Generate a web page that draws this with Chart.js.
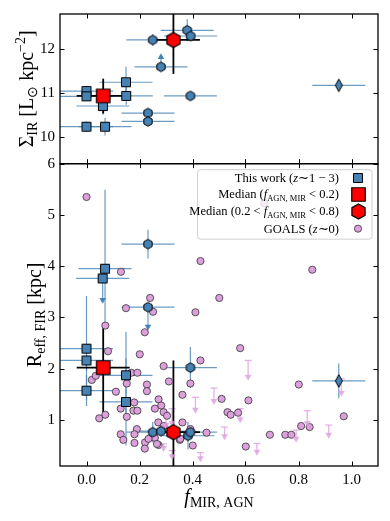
<!DOCTYPE html>
<html>
<head>
<meta charset="utf-8">
<script src="https://cdn.jsdelivr.net/npm/chart.js@4.4.0/dist/chart.umd.min.js"></script>
<style>
  html, body { margin: 0; padding: 0; background: #fff; }
  #wrap { width: 390px; height: 521px; position: relative; }
</style>
</head>
<body>
<div id="wrap"><canvas id="c" width="390" height="521"></canvas></div>
<script>
// ---- data ----
const xTicks = [0.0, 0.2, 0.4, 0.6, 0.8, 1.0];
const topTicks = [10, 11, 12];
const botTicks = [1, 2, 3, 4, 5, 6];

// top panel: Sigma_IR
const topSqX = [0.000, 0.000, 0.062, 0.149, 0.150, 0.000, 0.070];
const topSqY = [11.05, 10.93, 10.71, 11.25, 10.94, 10.24, 10.24];
const topSqXerr = [0.10, 0.10, 0.10, 0.10, 0.10, 0.10, 0.10];
const topSqYerr = [0.12, 0.10, 0.20, 0.35, 0.20, 0.12, 0.20];
const topHexX = [0.250, 0.380, 0.393, 0.281, 0.392, 0.232, 0.232];
const topHexY = [12.21, 12.43, 12.30, 11.60, 10.94, 10.55, 10.36];
const topHexXerr = [0.10, 0.10, 0.10, 0.10, 0.10, 0.10, 0.10];
const topHexYerr = [0.13, 0.25, 0.10, 0.00, 0.06, 0.05, 0.05];
const topLimX = [0.281, 0.062];      // lower limits (arrow up)
const topLimFrom = [11.60, 10.71];
const topLimTo = [11.82, 10.93];

// bottom panel: R_eff,FIR
const botSqX = [0.070, 0.061, 0.000, 0.000, 0.000, 0.149, 0.149];
const botSqY = [3.95, 3.76, 2.39, 2.16, 1.57, 1.87, 1.35];
const botSqXerr = [0.10, 0.10, 0.10, 0.10, 0.10, 0.10, 0.10];
const botSqYlo = [1.10, 0.00, 1.00, 0.20, 0.30, 0.85, 0.85];
const botSqYhi = [1.54, 0.00, 1.03, 0.20, 0.30, 0.85, 0.85];
const botHexX = [0.232, 0.232, 0.392, 0.250, 0.281, 0.383, 0.392];
const botHexY = [4.43, 3.20, 2.02, 0.76, 0.78, 0.69, 0.76];
const botHexXerr = [0.10, 0.10, 0.10, 0.10, 0.10, 0.10, 0.10];
const botHexYerr = [0.28, 0.00, 0.40, 0.20, 0.10, 0.27, 0.10];
const botLimX = [0.061, 0.232];      // upper limits (arrow down)
const botLimFrom = [3.76, 3.20];
const botLimTo = [3.34, 2.82];

// the AGN dominated source (thin diamond)
const diamX = [0.952];
const diamTopY = [11.18];
const diamTopYerr = [0.04];
const diamBotY = [1.76];
const diamBotYerr = [0.34];
const diamXerr = [0.10];

// medians: [f<0.2 square, 0.2<f<0.8 hexagon]
const medX = [0.063, 0.328];
const medXlo = [0.10, 0.075];
const medXhi = [0.10, 0.10];
const medTopY = [10.94, 12.21];
const medTopYlo = [0.40, 0.77];
const medTopYhi = [0.39, 0.90];
const medBotY = [2.02, 0.76];
const medBotYlo = [0.87, 1.00];
const medBotYhi = [0.83, 1.40];

// GOALS (z~0)
const goalsX = [0.000, 0.671, 0.130, 0.430, 0.852, 0.240, 0.501, 0.149, 0.251, 0.411,
  0.071, 0.220, 0.580, 0.201, 0.081, 0.430, 0.291, 0.311, 0.392, 0.169,
  0.192, 0.020, 0.035, 0.228, 0.228, 0.111, 0.362, 0.510, 0.611, 0.801,
  0.971, 0.272, 0.282, 0.258, 0.291, 0.129, 0.180, 0.177, 0.192, 0.152,
  0.071, 0.048, 0.532, 0.544, 0.572, 0.271, 0.362, 0.190, 0.291, 0.392,
  0.129, 0.181, 0.139, 0.181, 0.221, 0.220, 0.258, 0.272, 0.352, 0.401,
  0.453, 0.601, 0.692, 0.750, 0.773, 0.810, 0.842, 0.234, 0.266, 0.354,
  0.152, 0.304];
const goalsY = [5.35, 5.23, 3.89, 4.10, 3.93, 3.38, 3.38, 3.18, 3.11, 3.10,
  2.84, 2.71, 2.40, 2.28, 2.34, 2.16, 2.05, 1.75, 1.71, 1.92,
  1.92, 1.78, 1.86, 1.69, 1.56, 1.55, 1.49, 1.41, 1.38, 1.69,
  1.07, 1.40, 1.28, 1.22, 1.15, 1.22, 1.34, 1.18, 1.18, 1.06,
  1.10, 1.03, 1.15, 1.10, 1.14, 0.95, 0.95, 0.82, 0.88, 0.82,
  0.72, 0.72, 0.61, 0.55, 0.56, 0.44, 0.65, 0.51, 0.61, 0.50,
  0.75, 0.48, 0.71, 0.71, 0.71, 0.88, 0.86, 0.63, 0.53, 0.63,
  1.71, 1.08];
// GOALS upper limits
const goalsLimX = [0.610, 0.481, 0.411, 0.580, 0.521, 0.643, 0.430, 0.323, 0.323, 0.291, 0.962, 0.833, 0.914, 0.791, 0.300];
const goalsLimTop = [2.16, 1.62, 1.44, 1.22, 0.86, 0.54, 0.36, 1.22, 0.40, 0.53, 1.80, 1.18, 0.90, 0.80, 1.15];
const goalsLimTip = [1.84, 1.37, 1.20, 1.01, 0.68, 0.38, 0.25, 0.94, 0.29, 0.45, 1.53, 0.94, 0.71, 0.63, 0.90];

// ---- styles ----
const SERIF = '"Liberation Serif", "Times New Roman", serif';
const BLUE = '#4682b4';
const BLUE_ERR = 'rgba(70,130,180,0.8)';
const PINK = '#dda0dd';
const PINK_LIM = 'rgba(221,160,221,0.8)';

function makeMarker(shape, a, b, fill, lw) {
  const c = document.createElement('canvas');
  const w = shape === 'hex' ? a * Math.sqrt(3) : a;
  const h = shape === 'hex' ? 2 * a : (shape === 'diamond' ? b : a);
  c.width = Math.ceil(w + lw * 2 + 1);
  c.height = Math.ceil(h + lw * 2 + 1);
  const g = c.getContext('2d');
  const cx = c.width / 2, cy = c.height / 2;
  g.beginPath();
  if (shape === 'hex') {
    for (let k = 0; k < 6; k++) {
      const ang = -Math.PI / 2 + k * Math.PI / 3;
      const X = cx + a * Math.cos(ang), Y = cy + a * Math.sin(ang);
      if (k === 0) g.moveTo(X, Y); else g.lineTo(X, Y);
    }
    g.closePath();
  } else if (shape === 'diamond') {
    g.moveTo(cx, cy - h / 2); g.lineTo(cx + w / 2, cy);
    g.lineTo(cx, cy + h / 2); g.lineTo(cx - w / 2, cy); g.closePath();
  } else {
    g.rect(cx - w / 2, cy - h / 2, w, h);
  }
  g.fillStyle = fill; g.fill();
  g.lineWidth = lw; g.strokeStyle = '#000'; g.stroke();
  return c;
}

const mkSq = makeMarker('sq', 9, 9, BLUE, 1);
const mkHex = makeMarker('hex', 4.8, 0, BLUE, 1);
const mkDiam = makeMarker('diamond', 7, 12.5, BLUE, 1);
const mkMedSq = makeMarker('sq', 13.5, 13.5, '#ff0000', 1.2);
const mkMedHex = makeMarker('hex', 7.6, 0, '#ff0000', 1.2);

const pts = (xs, ys) => xs.map((x, i) => ({ x: x, y: ys[i] }));

function imgSet(data, axis, img, order) {
  return { data: data, yAxisID: axis, pointStyle: img, pointRadius: 5, order: order, showLine: false };
}

const datasets = [
  { data: pts(goalsX, goalsY), yAxisID: 'yBot', pointStyle: 'circle', pointRadius: 3.6,
    backgroundColor: PINK, borderColor: '#333', borderWidth: 0.8, order: 10 },
  { data: pts(goalsLimX, goalsLimTip), yAxisID: 'yBot', pointStyle: 'triangle', rotation: 180,
    pointRadius: 4, backgroundColor: PINK_LIM, borderWidth: 0, order: 9 },
  { data: pts(topLimX, topLimTo), yAxisID: 'yTop', pointStyle: 'triangle', rotation: 0,
    pointRadius: 3.8, backgroundColor: BLUE, borderWidth: 0, order: 8 },
  { data: pts(botLimX, botLimTo), yAxisID: 'yBot', pointStyle: 'triangle', rotation: 180,
    pointRadius: 3.8, backgroundColor: BLUE, borderWidth: 0, order: 8 },
  imgSet(pts(topSqX, topSqY), 'yTop', mkSq, 5),
  imgSet(pts(topHexX, topHexY), 'yTop', mkHex, 5),
  imgSet(pts(diamX, diamTopY), 'yTop', mkDiam, 5),
  imgSet(pts(botSqX, botSqY), 'yBot', mkSq, 5),
  imgSet(pts(botHexX, botHexY), 'yBot', mkHex, 5),
  imgSet(pts(diamX, diamBotY), 'yBot', mkDiam, 5),
  imgSet([{ x: medX[0], y: medTopY[0] }], 'yTop', mkMedSq, 1),
  imgSet([{ x: medX[1], y: medTopY[1] }], 'yTop', mkMedHex, 1),
  imgSet([{ x: medX[0], y: medBotY[0] }], 'yBot', mkMedSq, 1),
  imgSet([{ x: medX[1], y: medBotY[1] }], 'yBot', mkMedHex, 1)
];

// error bar groups (drawn through the chart scales)
const errGroups = [
  { axis: 'yTop', x: topSqX, y: topSqY, xlo: topSqXerr, xhi: topSqXerr, ylo: topSqYerr, yhi: topSqYerr },
  { axis: 'yTop', x: topHexX, y: topHexY, xlo: topHexXerr, xhi: topHexXerr, ylo: topHexYerr, yhi: topHexYerr },
  { axis: 'yTop', x: diamX, y: diamTopY, xlo: diamXerr, xhi: diamXerr, ylo: diamTopYerr, yhi: diamTopYerr },
  { axis: 'yBot', x: botSqX, y: botSqY, xlo: botSqXerr, xhi: botSqXerr, ylo: botSqYlo, yhi: botSqYhi },
  { axis: 'yBot', x: botHexX, y: botHexY, xlo: botHexXerr, xhi: botHexXerr, ylo: botHexYerr, yhi: botHexYerr },
  { axis: 'yBot', x: diamX, y: diamBotY, xlo: diamXerr, xhi: diamXerr, ylo: diamBotYerr, yhi: diamBotYerr }
];
const medGroups = [
  { axis: 'yTop', x: medX, y: medTopY, xlo: medXlo, xhi: medXhi, ylo: medTopYlo, yhi: medTopYhi },
  { axis: 'yBot', x: medX, y: medBotY, xlo: medXlo, xhi: medXhi, ylo: medBotYlo, yhi: medBotYhi }
];

function seg(ctx, x1, y1, x2, y2) {
  ctx.beginPath(); ctx.moveTo(x1, y1); ctx.lineTo(x2, y2); ctx.stroke();
}

function drawErr(chart, g) {
  const ctx = chart.ctx, sx = chart.scales.x, sy = chart.scales[g.axis];
  g.x.forEach((x, i) => {
    const y = g.y[i];
    const yp = sy.getPixelForValue(y), xp = sx.getPixelForValue(x);
    seg(ctx, sx.getPixelForValue(x - g.xlo[i]), yp, sx.getPixelForValue(x + g.xhi[i]), yp);
    if (g.ylo[i] > 0 || g.yhi[i] > 0)
      seg(ctx, xp, sy.getPixelForValue(y - g.ylo[i]), xp, sy.getPixelForValue(y + g.yhi[i]));
  });
}

// rich text: parts = [[text, font, dy], ...]
function drawParts(ctx, parts, x, y, align) {
  let total = 0;
  parts.forEach(p => { ctx.font = p[1]; total += ctx.measureText(p[0]).width; });
  let cx = align === 'right' ? x - total : (align === 'center' ? x - total / 2 : x);
  ctx.textAlign = 'left';
  parts.forEach(p => {
    ctx.font = p[1];
    ctx.fillText(p[0], cx, y + (p[2] || 0));
    cx += ctx.measureText(p[0]).width;
  });
}

const errPlugin = {
  id: 'errs',
  beforeDatasetsDraw(chart) {
    const ctx = chart.ctx, a = chart.chartArea, sx = chart.scales.x, sb = chart.scales.yBot, st = chart.scales.yTop;
    ctx.save();
    ctx.beginPath(); ctx.rect(a.left, a.top, a.right - a.left, a.bottom - a.top); ctx.clip();
    // GOALS upper limits
    ctx.strokeStyle = PINK_LIM; ctx.lineWidth = 1.3;
    goalsLimX.forEach((x, i) => {
      const xp = sx.getPixelForValue(x), y1 = sb.getPixelForValue(goalsLimTop[i]), y2 = sb.getPixelForValue(goalsLimTip[i]);
      seg(ctx, xp, y1, xp, y2);
      seg(ctx, xp - 3.5, y1, xp + 3.5, y1);
    });
    // blue error bars
    ctx.strokeStyle = BLUE_ERR; ctx.lineWidth = 1.2;
    errGroups.forEach(g => drawErr(chart, g));
    topLimX.forEach((x, i) => {
      const xp = sx.getPixelForValue(x);
      seg(ctx, xp, st.getPixelForValue(topLimFrom[i]), xp, st.getPixelForValue(topLimTo[i]));
    });
    botLimX.forEach((x, i) => {
      const xp = sx.getPixelForValue(x);
      seg(ctx, xp, sb.getPixelForValue(botLimFrom[i]), xp, sb.getPixelForValue(botLimTo[i]));
    });
    // medians
    ctx.strokeStyle = '#000'; ctx.lineWidth = 1.8;
    medGroups.forEach(g => drawErr(chart, g));
    ctx.restore();
  },
  afterDraw(chart) {
    const ctx = chart.ctx, a = chart.chartArea, sx = chart.scales.x;
    ctx.save();
    // frames and inward ticks for both panels
    ['yTop', 'yBot'].forEach(id => {
      const s = chart.scales[id];
      const t = s.top, b = s.bottom;
      ctx.strokeStyle = '#000'; ctx.lineWidth = 1;
      xTicks.forEach(v => {
        const xp = Math.round(sx.getPixelForValue(v)) + 0.5;
        seg(ctx, xp, t, xp, t + 4.5);
        seg(ctx, xp, b, xp, b - 4.5);
      });
      s.ticks.forEach(tk => {
        const yp = Math.round(s.getPixelForValue(tk.value)) + 0.5;
        seg(ctx, a.left, yp, a.left + 4.5, yp);
        seg(ctx, a.right, yp, a.right - 4.5, yp);
      });
      ctx.lineWidth = 1.3;
      ctx.strokeRect(a.left, t, a.right - a.left, b - t);
    });

    // axis labels
    ctx.fillStyle = '#000';
    ctx.textBaseline = 'alphabetic';
    const big = '20px ' + SERIF, bigIt = 'italic 20px ' + SERIF, sub = '14px ' + SERIF;
    drawParts(ctx, [['f', bigIt, 0], ['MIR, AGN', sub, 4]], (a.left + a.right) / 2, 503, 'center');

    const st = chart.scales.yTop, sb = chart.scales.yBot;
    ctx.save();
    ctx.translate(33, (st.top + st.bottom) / 2);
    ctx.rotate(-Math.PI / 2);
    drawParts(ctx, [['Σ', big, 0], ['IR', sub, 4], [' [L', big, 0], ['⊙', sub, 4],
      [' kpc', big, 0], ['−2', sub, -8], [']', big, 0]], 0, 0, 'center');
    ctx.restore();
    ctx.save();
    ctx.translate(41, (sb.top + sb.bottom) / 2);
    ctx.rotate(-Math.PI / 2);
    drawParts(ctx, [['R', big, 0], ['eff, FIR', sub, 4], [' [kpc]', big, 0]], 0, 0, 'center');
    ctx.restore();

    // legend
    const lx0 = 197.5, lx1 = a.right - 6, ly0 = sb.top + 6, ly1 = ly0 + 69.5;
    ctx.beginPath();
    ctx.roundRect(lx0, ly0, lx1 - lx0, ly1 - ly0, 3);
    ctx.fillStyle = 'rgba(255,255,255,0.8)'; ctx.fill();
    ctx.strokeStyle = '#d0d0d0'; ctx.lineWidth = 1; ctx.stroke();
    const rows = [ly0 + 8.5, ly0 + 24.5, ly0 + 41.5, ly0 + 59];
    const tx = lx1 - 33, mx = lx1 - 14;
    const f12 = '12.5px ' + SERIF, f12i = 'italic 12.5px ' + SERIF, f8 = '8.5px ' + SERIF;
    ctx.fillStyle = '#000';
    drawParts(ctx, [['This work (', f12], ['z', f12i], ['∼', f12], ['1 − 3', f12], [')', f12]], tx, rows[0] + 4, 'right');
    drawParts(ctx, [['Median (', f12], ['f', f12i], ['AGN, MIR', f8, 3], [' < 0.2)', f12]], tx, rows[1] + 4, 'right');
    drawParts(ctx, [['Median (0.2 < ', f12], ['f', f12i], ['AGN, MIR', f8, 3], [' < 0.8)', f12]], tx, rows[2] + 4, 'right');
    drawParts(ctx, [['GOALS (', f12], ['z', f12i], ['∼', f12], ['0)', f12]], tx, rows[3] + 4, 'right');
    [mkSq, mkMedSq, mkMedHex].forEach((m, i) => {
      ctx.drawImage(m, Math.round(mx - m.width / 2), Math.round(rows[i] - m.height / 2));
    });
    ctx.beginPath(); ctx.arc(mx, rows[3], 3.6, 0, Math.PI * 2);
    ctx.fillStyle = PINK; ctx.fill(); ctx.strokeStyle = '#333'; ctx.lineWidth = 0.8; ctx.stroke();
    ctx.restore();
  }
};

const tickFont = { family: SERIF, size: 15 };

new Chart(document.getElementById('c'), {
  type: 'scatter',
  data: { datasets: datasets },
  options: {
    responsive: false,
    animation: false,
    devicePixelRatio: 1,
    events: [],
    layout: { padding: { left: 0, right: 12, top: 13, bottom: 0 } },
    plugins: { legend: { display: false }, tooltip: { enabled: false } },
    scales: {
      x: {
        type: 'linear', position: 'bottom', min: -0.1, max: 1.1,
        afterBuildTicks: s => { s.ticks = xTicks.map(v => ({ value: v })); },
        afterFit: s => { s.height = 55; },
        grid: { display: false, drawTicks: false }, border: { display: false },
        ticks: { font: tickFont, color: '#000', padding: 5, autoSkip: false, maxRotation: 0,
          callback: v => v.toFixed(1) }
      },
      yBot: {
        type: 'linear', position: 'left', stack: 'panels', stackWeight: 303, min: 0.1, max: 6,
        afterBuildTicks: s => { s.ticks = botTicks.map(v => ({ value: v })); },
        afterFit: s => { s.width = 60; },
        grid: { display: false, drawTicks: false }, border: { display: false },
        ticks: { font: tickFont, color: '#000', padding: 5, callback: v => String(v) }
      },
      yTop: {
        type: 'linear', position: 'left', stack: 'panels', stackWeight: 150, min: 9.4, max: 12.8,
        afterBuildTicks: s => { s.ticks = topTicks.map(v => ({ value: v })); },
        afterFit: s => { s.width = 60; },
        grid: { display: false, drawTicks: false }, border: { display: false },
        ticks: { font: tickFont, color: '#000', padding: 5, callback: v => String(v) }
      }
    }
  },
  plugins: [errPlugin]
});
</script>
</body>
</html>
